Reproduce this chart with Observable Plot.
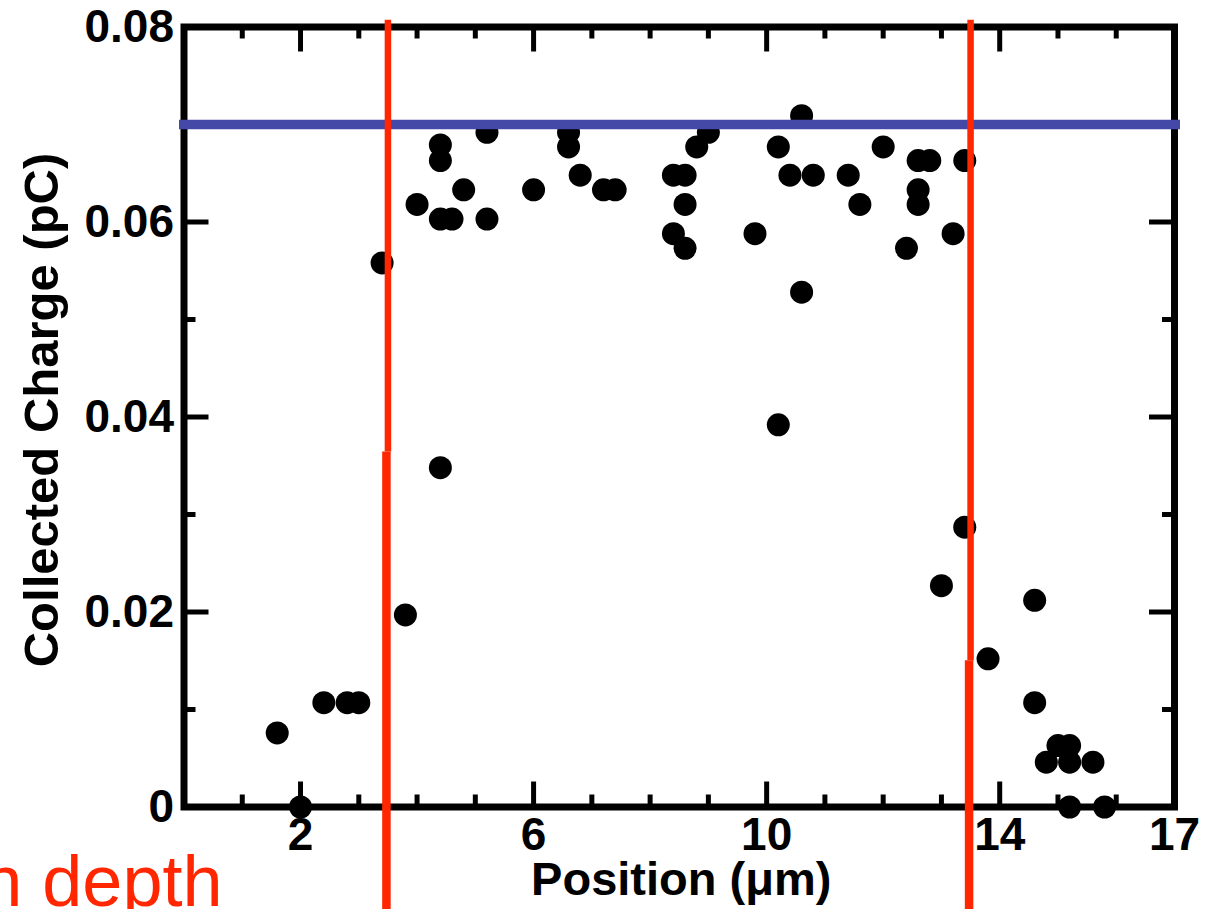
<!DOCTYPE html>
<html><head><meta charset="utf-8">
<script src="https://cdn.jsdelivr.net/npm/d3@7"></script>
<script src="https://cdn.jsdelivr.net/npm/@observablehq/plot@0.6"></script>
<style>
html,body{margin:0;padding:0;background:#fff;}
#chart svg{display:block;}
</style></head><body><div id="chart"></div>
<script>
// ---- data ----
const positions = [1.6, 2.0, 2.4, 2.8, 3.0, 3.4, 3.8, 4.0, 4.4, 4.4, 4.4, 4.4, 4.6, 4.8, 5.2, 5.2,
  6.0, 6.6, 6.6, 6.8, 7.2, 7.4, 8.4, 8.4, 8.6, 8.6, 8.6, 8.8, 9.0, 9.8, 10.2, 10.2, 10.4, 10.6, 10.6,
  10.8, 11.4, 11.6, 12.0, 12.4, 12.6, 12.6, 12.6, 12.8, 13.0, 13.2, 13.4, 13.4, 13.8, 14.6, 14.6,
  14.8, 15.0, 15.2, 15.2, 15.2, 15.6, 15.8];
const charges = [0.0076, 0.0, 0.0107, 0.0107, 0.0107, 0.0558, 0.0197, 0.0618, 0.0679, 0.0663, 0.0603, 0.0348, 0.0603, 0.0633, 0.0692, 0.0603,
  0.0633, 0.0692, 0.0677, 0.0648, 0.0633, 0.0633, 0.0648, 0.0588, 0.0648, 0.0618, 0.0573, 0.0677, 0.0692, 0.0588, 0.0677, 0.0392, 0.0648, 0.0709, 0.0528,
  0.0648, 0.0648, 0.0618, 0.0677, 0.0573, 0.0663, 0.0633, 0.0618, 0.0663, 0.0227, 0.0588, 0.0663, 0.0287, 0.0152, 0.0212, 0.0107,
  0.0046, 0.0063, 0.0063, 0.0046, 0.0, 0.0046, 0.0];

const xLabelTicks = [2, 6, 10, 14, 17];
const xMajorTicks = [2, 6, 10, 14];
const xMinorTicks = [1, 3, 4, 5, 7, 8, 9, 11, 12, 13, 15, 16];
const yLabelTicks = [0, 0.02, 0.04, 0.06, 0.08];
const yMajorTicks = [0.02, 0.04, 0.06];
const yMinorTicks = [0.01, 0.03, 0.05, 0.07];

const saturationLevel = [0.07];
const depletionEdges = [3.5, 13.5];
const edgeBreaks = [0.0364, 0.0150];     // where each red marker line steps
const annotationText = ["Depletion depth"];
const xLabel = "Position (\u03bcm)";
const yLabel = "Collected Charge (pC)";

// ---- layout ----
const W = 1215, H = 909;
const mL = 183.5, mR = 41, mT = 26.5, mB = 102.5;
const plotW = W - mL - mR, plotH = H - mT - mB;
const FONT = "'Liberation Sans', Arial, Helvetica, sans-serif";
const RED = "#ff2600", BLUE = "#4449a8";

const points = positions.map((x, i) => ({x, y: charges[i]}));
const edges = depletionEdges.map((x, i) => ({x, brk: edgeBreaks[i]}));

const chart = Plot.plot({
  width: W, height: H,
  marginLeft: mL, marginRight: mR, marginTop: mT, marginBottom: mB,
  style: {fontFamily: FONT, background: "#fff", color: "#000"},
  x: {domain: [0, 17]},
  y: {domain: [0, 0.08]},
  marks: [
    Plot.dot(points, {x: "x", y: "y", r: 11.5, fill: "#000", stroke: null}),
    Plot.frame({stroke: "#000", strokeWidth: 7}),
    // bottom ticks (inward)
    Plot.tickX(xMinorTicks, {x: d => d, insetTop: plotH - 12, stroke: "#000", strokeWidth: 5}),
    Plot.tickX(xMajorTicks, {x: d => d, insetTop: plotH - 25, stroke: "#000", strokeWidth: 5}),
    // top ticks (inward)
    Plot.tickX(xMinorTicks, {x: d => d, insetBottom: plotH - 12, stroke: "#000", strokeWidth: 5}),
    Plot.tickX(xMajorTicks, {x: d => d, insetBottom: plotH - 25, stroke: "#000", strokeWidth: 5}),
    // left ticks
    Plot.tickY(yMinorTicks, {y: d => d, insetRight: plotW - 12, stroke: "#000", strokeWidth: 5}),
    Plot.tickY(yMajorTicks, {y: d => d, insetRight: plotW - 25, stroke: "#000", strokeWidth: 5}),
    // right ticks
    Plot.tickY(yMinorTicks, {y: d => d, insetLeft: plotW - 12, stroke: "#000", strokeWidth: 5}),
    Plot.tickY(yMajorTicks, {y: d => d, insetLeft: plotW - 25, stroke: "#000", strokeWidth: 5}),
    Plot.axisX(xLabelTicks, {anchor: "bottom", tickSize: 0, tickPadding: 10, fontSize: 46, fontWeight: "bold", label: null, tickFormat: d => String(d)}),
    Plot.axisY(yLabelTicks, {anchor: "left", tickSize: 0, tickPadding: 10, fontSize: 46, fontWeight: "bold", label: null, tickFormat: d => d === 0 ? "0" : d.toFixed(2)}),
    Plot.text([xLabel], {frameAnchor: "bottom", dx: 2, dy: 88, textAnchor: "middle", lineAnchor: "bottom", fontSize: 47, fontWeight: "bold", fill: "#000"}),
    Plot.text([yLabel], {frameAnchor: "left", rotate: -90, dx: -142, dy: -7, textAnchor: "middle", lineAnchor: "middle", fontSize: 49, fontWeight: "bold", fill: "#000"}),
    // saturation level
    Plot.ruleY(saturationLevel, {y: d => d, stroke: BLUE, strokeWidth: 9.5, insetLeft: -4.5, insetRight: -6}),
    // depletion edges (upper and lower pieces)
    Plot.ruleX(edges, {x: "x", y1: 0.0807, y2: "brk", stroke: RED, strokeWidth: 6.5}),
    Plot.ruleX(edges, {x: "x", y1: "brk", y2: -0.011, stroke: RED, strokeWidth: 8.5, dx: -1.5}),
    Plot.text(annotationText, {frameAnchor: "bottom-left", dx: 222 - mL, dy: 905 - (H - mB), textAnchor: "end", lineAnchor: "bottom", fontSize: 72, fill: RED, fontWeight: "normal"})
  ]
});
document.getElementById("chart").appendChild(chart);
</script>
</body></html>
